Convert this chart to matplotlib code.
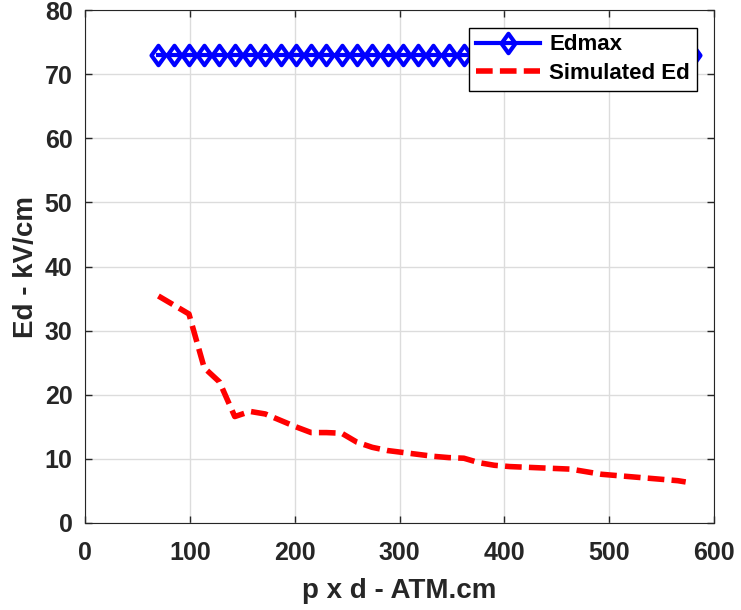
import numpy as np
import matplotlib.pyplot as plt
from matplotlib.path import Path

plt.rcParams['font.family'] = ['Liberation Sans', 'DejaVu Sans']
plt.rcParams['font.weight'] = 'bold'

# p x d values (ATM.cm)
pd_vals = np.linspace(70, 580, 36)
edmax = [73] * 36
sim_x = pd_vals[:-1].tolist() + [573]
sim_ed = [35.4, 34.0, 32.6, 24.2, 22.0, 16.6, 17.4, 17.0, 16.0, 15.0,
          14.1, 14.1, 14.0, 12.6, 11.8, 11.3, 11.0, 10.7, 10.4, 10.2,
          10.1, 9.4, 9.0, 8.8, 8.7, 8.6, 8.5, 8.4, 8.0, 7.6,
          7.4, 7.2, 7.0, 6.8, 6.6, 6.4]

# matlab-like diamond, a bit taller than wide
diamond = Path([(0, 1), (0.72, 0), (0, -1), (-0.72, 0), (0, 1)],
               [Path.MOVETO, Path.LINETO, Path.LINETO, Path.LINETO, Path.CLOSEPOLY])

fig = plt.figure(figsize=(7.41, 6.10), dpi=100)
ax = fig.add_axes([85 / 741, 1 - 523 / 610, (714 - 85) / 741, (523 - 10) / 610])

ax.plot(pd_vals, edmax, 'b-', marker=diamond, markersize=14, markerfacecolor='none',
        markeredgewidth=3, linewidth=3, label='Edmax')
ax.plot(sim_x, sim_ed, 'r--', dashes=(3, 1.3), linewidth=4, label='Simulated Ed')

ax.set_xlim(0, 600)
ax.set_ylim(0, 80)
ax.set_xticks(range(0, 601, 100))
ax.set_yticks(range(0, 81, 10))

ax.set_xlabel('p x d - ATM.cm', fontsize=20, fontweight='bold', color='#262626', labelpad=9)
ax.set_ylabel('Ed - kV/cm', fontsize=20, fontweight='bold', color='#262626', labelpad=4)

ax.tick_params(direction='in', labelsize=18, colors='#262626', length=5, width=1,
               top=True, right=True)
ax.tick_params(axis='x', pad=13)
ax.tick_params(axis='y', pad=9)
for s in ax.spines.values():
    s.set_color('#262626')
ax.grid(True, color='#dcdcdc', linewidth=1)
ax.set_axisbelow(True)

leg = ax.legend(loc='upper right', fontsize=16, frameon=True, fancybox=False,
                edgecolor='black', framealpha=1, handlelength=2.9,
                borderpad=0.3, labelspacing=0.35, handletextpad=0.4,
                bbox_to_anchor=(0.99, 0.987))
leg.get_frame().set_linewidth(1)

fig.savefig('out.png', dpi=100)
